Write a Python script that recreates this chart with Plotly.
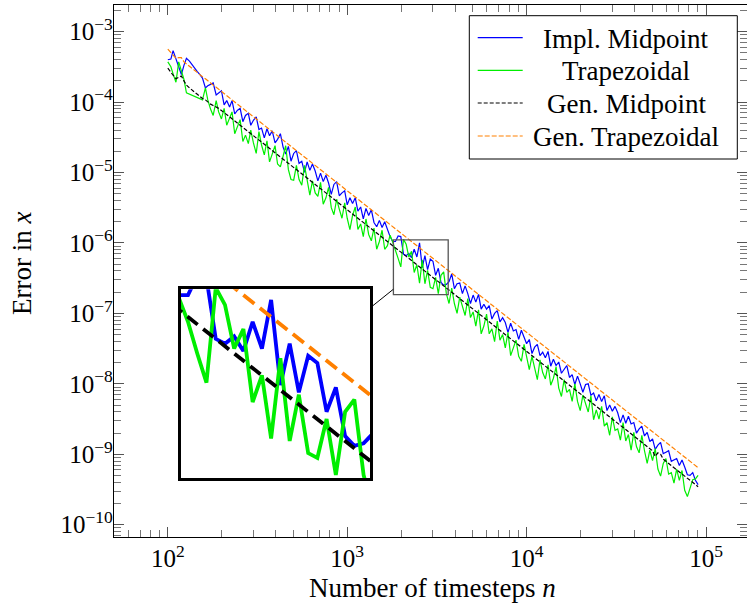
import plotly.graph_objects as go

# ---------------- data ----------------
n_timesteps = [
    100, 104, 107, 111, 115, 119, 123, 127, 132, 136,
    141, 146, 151, 156, 162, 167, 173, 179, 186, 192,
    199, 206, 213, 221, 228, 236, 244, 253, 262, 271,
    281, 290, 300, 311, 322, 333, 345, 357, 369, 382,
    396, 409, 424, 439, 454, 470, 486, 503, 521, 539,
    558, 578, 598, 619, 640, 663, 686, 710, 735, 761,
    787, 815, 843, 873, 903, 935, 968,
    1000, 1035, 1071, 1109, 1147, 1188, 1229, 1272, 1317, 1363,
    1410, 1460, 1511, 1564, 1618, 1675, 1733, 1794, 1857, 1922,
    1989, 2059, 2131, 2205, 2282, 2362, 2445, 2530, 2619, 2711,
    2805, 2904, 3005, 3110, 3219, 3332, 3448, 3569, 3694, 3823,
    3957, 4095, 4239, 4387, 4541, 4699, 4864, 5034, 5210, 5393,
    5581, 5777, 5979, 6188, 6404, 6629, 6861, 7101, 7349, 7606,
    7872, 8148, 8433, 8728, 9033, 9350, 9677,
    10000, 10350, 10711, 11086, 11474, 11875, 12290, 12720, 13165, 13626,
    14102, 14596, 15106, 15635, 16182, 16748, 17334, 17940, 18568, 19218,
    19890, 20586, 21306, 22052, 22823, 23622, 24448, 25304, 26189, 27105,
    28054, 29035, 30051, 31103, 32191, 33318, 34483, 35690, 36939, 38231,
    39569, 40954, 42387, 43870, 45405, 46994, 48638, 50340, 52102, 53925,
    55812, 57765, 59787, 61879, 64044, 66285, 68605, 71005, 73490, 76062,
    78723, 81478, 84329, 87280, 90334,
]

# log10 of the error in x
log10_err_impl_midpoint = [
    -3.40, -3.39, -3.27, -3.39, -3.50, -3.61, -3.48, -3.38, -3.42, -3.47,
    -3.52, -3.57, -3.61, -3.66, -3.80, -3.77, -3.75, -3.73, -3.90, -3.87,
    -3.84, -4.04, -3.98, -4.07, -3.98, -4.17, -4.12, -4.09, -4.28, -4.19,
    -4.16, -4.33, -4.26, -4.21, -4.39, -4.37, -4.51, -4.38, -4.48, -4.41,
    -4.58, -4.53, -4.45, -4.64, -4.74, -4.63, -4.84, -4.73, -4.69, -4.87,
    -4.84, -5.00, -4.85, -4.97, -4.88, -4.98, -5.12, -5.01, -5.13, -5.04,
    -5.15, -5.31, -5.17, -5.13, -5.33, -5.29, -5.26, -5.46, -5.36, -5.44,
    -5.36, -5.55, -5.49, -5.66, -5.51, -5.61, -5.53, -5.71, -5.77, -5.68,
    -5.78, -5.70, -5.80, -5.91, -5.98, -5.98, -5.90, -5.91, -6.16, -6.18,
    -6.15, -6.21, -6.09, -6.20, -6.00, -6.35, -6.18, -6.38, -6.23, -6.26,
    -6.46, -6.36, -6.56, -6.60, -6.59, -6.55, -6.44, -6.65, -6.58, -6.57,
    -6.72, -6.61, -6.72, -6.86, -6.74, -6.84, -6.73, -6.94, -6.87, -6.94,
    -6.89, -7.08, -7.00, -6.96, -7.12, -7.06, -7.13, -7.27, -7.14, -7.25,
    -7.23, -7.37, -7.24, -7.35, -7.43, -7.37, -7.57, -7.48, -7.44, -7.60,
    -7.55, -7.63, -7.54, -7.75, -7.65, -7.74, -7.69, -7.85, -7.80, -7.74,
    -7.91, -7.87, -8.01, -7.89, -8.00, -8.12, -8.01, -8.00, -8.16, -8.13,
    -8.24, -8.15, -8.25, -8.17, -8.38, -8.30, -8.39, -8.32, -8.41, -8.55,
    -8.44, -8.56, -8.46, -8.57, -8.55, -8.70, -8.64, -8.60, -8.74, -8.69,
    -8.82, -8.78, -8.93, -8.87, -8.83, -8.99, -8.97, -8.95, -9.10, -9.08,
    -9.06, -9.16, -9.08, -9.18, -9.29, -9.30, -9.26, -9.37, -9.43,
]

log10_err_trapezoidal = [
    -3.43, -3.50, -3.60, -3.72, -3.43, -3.57, -3.68, -3.87, -3.89, -3.91,
    -3.92, -3.94, -3.96, -3.97, -3.80, -3.97, -4.10, -4.19, -3.98, -4.14,
    -4.24, -4.09, -4.33, -4.23, -4.14, -4.45, -4.35, -4.25, -4.56, -4.47,
    -4.59, -4.40, -4.58, -4.73, -4.42, -4.61, -4.75, -4.55, -4.85, -4.75,
    -4.62, -4.88, -4.92, -4.77, -4.62, -4.96, -5.10, -5.11, -4.90, -5.10,
    -5.18, -4.90, -5.11, -5.32, -5.12, -5.29, -5.34, -5.14, -5.45, -5.36,
    -5.21, -5.50, -5.60, -5.38, -5.52, -5.65, -5.43, -5.65, -5.81, -5.61,
    -5.49, -5.81, -5.73, -5.91, -5.66, -5.88, -5.97, -5.79, -6.09, -5.98,
    -5.82, -6.09, -6.04, -5.89, -5.99, -6.09, -6.22, -6.34, -5.95, -6.02,
    -6.20, -6.12, -6.42, -6.31, -6.57, -6.24, -6.58, -6.39, -6.63, -6.65,
    -6.49, -6.72, -6.46, -6.41, -6.72, -6.86, -6.64, -6.86, -7.00, -6.77,
    -6.92, -7.03, -6.79, -7.06, -6.98, -7.18, -6.95, -7.29, -7.18, -7.01,
    -7.29, -7.22, -7.40, -7.11, -7.38, -7.30, -7.49, -7.27, -7.60, -7.50,
    -7.38, -7.61, -7.68, -7.44, -7.63, -7.80, -7.61, -7.78, -7.94, -7.66,
    -7.84, -7.93, -7.73, -8.02, -7.92, -7.76, -8.06, -8.18, -7.94, -8.12,
    -8.08, -8.25, -8.00, -8.25, -8.38, -8.16, -8.30, -8.40, -8.17, -8.51,
    -8.37, -8.50, -8.32, -8.60, -8.55, -8.73, -8.47, -8.66, -8.64, -8.80,
    -8.55, -8.81, -8.72, -8.94, -8.69, -8.89, -8.98, -8.73, -8.95, -9.13,
    -8.94, -9.09, -8.92, -9.21, -9.31, -9.13, -9.06, -9.28, -9.26, -9.41,
    -9.21, -9.37, -9.23, -9.51, -9.60, -9.47, -9.36, -9.35, -9.30,
]

log10_err_gen_midpoint = [
    -3.52, -3.57, -3.62, -3.67, -3.65, -3.63, -3.70, -3.76, -3.80, -3.83,
    -3.86, -3.89, -3.92, -3.95, -3.97, -4.00, -4.03, -4.05, -4.07, -4.09,
    -4.12, -4.15, -4.18, -4.21, -4.24, -4.27, -4.30, -4.33, -4.36, -4.39,
    -4.42, -4.45, -4.48, -4.51, -4.54, -4.57, -4.60, -4.63, -4.66, -4.69,
    -4.72, -4.75, -4.78, -4.81, -4.84, -4.87, -4.90, -4.93, -4.96, -4.99,
    -5.02, -5.05, -5.08, -5.11, -5.14, -5.17, -5.20, -5.23, -5.26, -5.29,
    -5.32, -5.35, -5.38, -5.41, -5.44, -5.47, -5.50, -5.53, -5.56, -5.59,
    -5.62, -5.65, -5.68, -5.71, -5.74, -5.77, -5.80, -5.83, -5.86, -5.89,
    -5.92, -5.95, -5.98, -6.01, -6.04, -6.07, -6.10, -6.13, -6.16, -6.19,
    -6.22, -6.25, -6.28, -6.31, -6.34, -6.37, -6.40, -6.43, -6.46, -6.49,
    -6.52, -6.55, -6.58, -6.61, -6.64, -6.67, -6.70, -6.73, -6.76, -6.79,
    -6.82, -6.85, -6.88, -6.91, -6.94, -6.97, -7.00, -7.03, -7.06, -7.09,
    -7.12, -7.15, -7.18, -7.21, -7.24, -7.27, -7.30, -7.33, -7.36, -7.39,
    -7.42, -7.45, -7.48, -7.51, -7.54, -7.57, -7.60, -7.63, -7.66, -7.69,
    -7.72, -7.75, -7.78, -7.81, -7.84, -7.87, -7.90, -7.93, -7.96, -7.99,
    -8.02, -8.05, -8.08, -8.11, -8.14, -8.17, -8.20, -8.23, -8.26, -8.29,
    -8.32, -8.35, -8.38, -8.41, -8.44, -8.47, -8.50, -8.53, -8.56, -8.59,
    -8.62, -8.65, -8.68, -8.71, -8.74, -8.77, -8.80, -8.83, -8.86, -8.89,
    -8.92, -8.95, -9.03, -8.98, -9.00, -9.07, -9.10, -9.13, -9.16, -9.19,
    -9.22, -9.25, -9.28, -9.31, -9.34, -9.37, -9.40, -9.43, -9.46,
]

log10_err_gen_trapezoidal = [
    -3.25, -3.30, -3.34, -3.38, -3.37, -3.37, -3.43, -3.46, -3.49, -3.52,
    -3.55, -3.58, -3.61, -3.64, -3.67, -3.70, -3.73, -3.76, -3.79, -3.82,
    -3.85, -3.88, -3.91, -3.94, -3.97, -4.00, -4.03, -4.06, -4.09, -4.12,
    -4.15, -4.18, -4.21, -4.24, -4.27, -4.30, -4.33, -4.36, -4.39, -4.42,
    -4.45, -4.48, -4.51, -4.54, -4.57, -4.60, -4.63, -4.66, -4.69, -4.72,
    -4.75, -4.78, -4.81, -4.84, -4.87, -4.90, -4.93, -4.96, -4.99, -5.02,
    -5.05, -5.08, -5.11, -5.14, -5.17, -5.20, -5.23, -5.26, -5.29, -5.32,
    -5.35, -5.38, -5.41, -5.44, -5.47, -5.50, -5.53, -5.56, -5.59, -5.62,
    -5.65, -5.68, -5.71, -5.74, -5.77, -5.80, -5.83, -5.86, -5.89, -5.92,
    -5.95, -5.98, -6.01, -6.04, -6.07, -6.10, -6.13, -6.16, -6.19, -6.22,
    -6.25, -6.28, -6.31, -6.34, -6.37, -6.40, -6.43, -6.46, -6.49, -6.52,
    -6.55, -6.58, -6.61, -6.64, -6.67, -6.70, -6.73, -6.76, -6.79, -6.82,
    -6.85, -6.88, -6.91, -6.94, -6.97, -7.00, -7.03, -7.06, -7.09, -7.12,
    -7.15, -7.18, -7.21, -7.24, -7.27, -7.30, -7.33, -7.36, -7.39, -7.42,
    -7.45, -7.48, -7.51, -7.54, -7.57, -7.60, -7.63, -7.66, -7.69, -7.72,
    -7.75, -7.78, -7.81, -7.84, -7.87, -7.90, -7.93, -7.96, -7.99, -8.02,
    -8.05, -8.08, -8.11, -8.14, -8.17, -8.20, -8.23, -8.26, -8.29, -8.32,
    -8.35, -8.38, -8.41, -8.44, -8.47, -8.50, -8.53, -8.56, -8.59, -8.62,
    -8.65, -8.68, -8.71, -8.74, -8.77, -8.80, -8.83, -8.86, -8.89, -8.92,
    -8.95, -8.98, -9.01, -9.04, -9.07, -9.10, -9.13, -9.16, -9.19,
]

series_names = ["Impl. Midpoint", "Trapezoidal", "Gen. Midpoint", "Gen. Trapezoidal"]
series_values = [log10_err_impl_midpoint, log10_err_trapezoidal,
                 log10_err_gen_midpoint, log10_err_gen_trapezoidal]

x_tick_values = [1e2, 1e3, 1e4, 1e5]
x_tick_labels = ["10<sup>2</sup>", "10<sup>3</sup>", "10<sup>4</sup>", "10<sup>5</sup>"]
y_tick_values = [1e-10, 1e-9, 1e-8, 1e-7, 1e-6, 1e-5, 1e-4, 1e-3]
y_tick_labels = ["10<sup>−10</sup>", "10<sup>−9</sup>", "10<sup>−8</sup>", "10<sup>−7</sup>",
                 "10<sup>−6</sup>", "10<sup>−5</sup>", "10<sup>−4</sup>", "10<sup>−3</sup>"]

x_title = "Number of timesteps <i>n</i>"
y_title = "Error in <i>x</i>"

# ---------------- styling / geometry ----------------
FONT = "Liberation Serif"
W, H = 747, 610
ML, MR, MT, MB = 114, 0, 5, 73
PW, PH = W - ML - MR, H - MT - MB
XR = [1.700, 1.700 + PW / 179.4]     # log10 range of main x axis
YR = [-10.174, -2.623]               # log10 range of main y axis

colors = ["#0000ff", "#00ee00", "#000000", "#ff8000"]
dashes_main = ["solid", "solid", "4px,2px", "5px,2px"]
dashes_inset = ["solid", "solid", "13px,7px", "14px,7px"]

# zoom (spy) region in log10 data coordinates and inset position in pixels
SPY_CX, SPY_CY = 3.4102, -6.345
SPY_HX, SPY_HY = 0.1527, 0.3887
INSET_PX = (181, 289.3, 370, 478.3)  # left, top, right, bottom (pixels)

x2_range = [SPY_CX - SPY_HX, SPY_CX + SPY_HX]
y2_range = [SPY_CY - SPY_HY, SPY_CY + SPY_HY]


def lx_to_px(lx):
    return ML + (lx - XR[0]) / (XR[1] - XR[0]) * PW


def ly_to_py(ly):
    return MT + (YR[1] - ly) / (YR[1] - YR[0]) * PH


def px_to_paper(px):
    return (px - ML) / PW


def py_to_paper(py):
    return (MT + PH - py) / PH


minor_x = [m * 10 ** e for e in range(1, 6) for m in range(2, 10)]
minor_y = [m * 10.0 ** e for e in range(-11, -2) for m in range(2, 10)]

fig = go.Figure()

for name, vals, col, dm in zip(series_names, series_values, colors, dashes_main):
    yv = [10 ** v for v in vals]
    fig.add_trace(go.Scatter(x=n_timesteps, y=yv, mode="lines", name=name,
                             line=dict(color=col, width=1.2, dash=dm),
                             xaxis="x", yaxis="y", showlegend=False))
for name, vals, col, di in zip(series_names, series_values, colors, dashes_inset):
    yv = [10 ** v for v in vals]
    fig.add_trace(go.Scatter(x=n_timesteps, y=yv, mode="lines", name=name,
                             line=dict(color=col, width=3.8, dash=di),
                             xaxis="x2", yaxis="y2", showlegend=False))

tickfont = dict(family=FONT, size=25, color="black")
common = dict(type="log", showgrid=False, zeroline=False, showline=True,
              linecolor="black", linewidth=1.3, mirror="ticks",
              ticks="inside", ticklen=10, tickwidth=1, tickcolor="#555",
              tickfont=tickfont, tickmode="array")

fig.update_layout(
    width=W, height=H,
    margin=dict(l=ML, r=MR, t=MT, b=MB, pad=0),
    paper_bgcolor="white", plot_bgcolor="white",
    xaxis=dict(common, range=XR, tickvals=x_tick_values, ticktext=x_tick_labels,
               ticklabelstandoff=-1, domain=[0, 1], anchor="y",
               minor=dict(tickmode="array", tickvals=minor_x, ticks="inside",
                          ticklen=7, tickwidth=1, tickcolor="#777", showgrid=False)),
    yaxis=dict(common, range=YR, tickvals=y_tick_values, ticktext=y_tick_labels,
               ticklabelstandoff=-5, domain=[0, 1], anchor="x",
               minor=dict(tickmode="array", tickvals=minor_y, ticks="inside",
                          ticklen=7, tickwidth=1, tickcolor="#777", showgrid=False)),
    xaxis2=dict(type="log", range=x2_range, anchor="y2",
                domain=[px_to_paper(INSET_PX[0]), px_to_paper(INSET_PX[2])],
                showgrid=False, zeroline=False, showticklabels=False, ticks="",
                showline=True, mirror=True, linecolor="black", linewidth=2.5),
    yaxis2=dict(type="log", range=y2_range, anchor="x2",
                domain=[py_to_paper(INSET_PX[3]), py_to_paper(INSET_PX[1])],
                showgrid=False, zeroline=False, showticklabels=False, ticks="",
                showline=True, mirror=True, linecolor="black", linewidth=2.5),
    font=dict(family=FONT, color="black"),
)

shapes = []
# spy outline in the main axes
sx0, sx1 = lx_to_px(x2_range[0]), lx_to_px(x2_range[1])
sy0, sy1 = ly_to_py(y2_range[1]), ly_to_py(y2_range[0])
shapes.append(dict(type="rect", xref="paper", yref="paper",
                   x0=px_to_paper(sx0), x1=px_to_paper(sx1),
                   y0=py_to_paper(sy1), y1=py_to_paper(sy0),
                   line=dict(color="#555", width=1.3)))

# connecting line between spy region and inset (along center-to-center line)
scx, scy = (sx0 + sx1) / 2, (sy0 + sy1) / 2
icx, icy = (INSET_PX[0] + INSET_PX[2]) / 2, (INSET_PX[1] + INSET_PX[3]) / 2
dx, dy = icx - scx, icy - scy


def exit_pt(cx, cy, ddx, ddy, hw, hh):
    t = min(hw / abs(ddx), hh / abs(ddy))
    return cx + t * ddx, cy + t * ddy


p1 = exit_pt(scx, scy, dx, dy, (sx1 - sx0) / 2, (sy1 - sy0) / 2)
p2 = exit_pt(icx, icy, -dx, -dy, (INSET_PX[2] - INSET_PX[0]) / 2, (INSET_PX[3] - INSET_PX[1]) / 2)
shapes.append(dict(type="line", xref="paper", yref="paper",
                   x0=px_to_paper(p1[0]), y0=py_to_paper(p1[1]),
                   x1=px_to_paper(p2[0]), y1=py_to_paper(p2[1]),
                   line=dict(color="black", width=1)))

# manual legend (centered text, as in the original)
LEG = (469.3, 15.7, 737.3, 159)
shapes.append(dict(type="rect", xref="paper", yref="paper", layer="above",
                   x0=px_to_paper(LEG[0]), x1=px_to_paper(LEG[2]),
                   y0=py_to_paper(LEG[3]), y1=py_to_paper(LEG[1]),
                   line=dict(color="black", width=1), fillcolor="white"))
entry_y = [37.7, 70.3, 103.0, 136.0]
annotations = []
for name, col, dm, ey in zip(series_names, colors, dashes_main, entry_y):
    shapes.append(dict(type="line", xref="paper", yref="paper", layer="above",
                       x0=px_to_paper(477.7), x1=px_to_paper(522.7),
                       y0=py_to_paper(ey), y1=py_to_paper(ey),
                       line=dict(color=col, width=1.2, dash=dm)))
    annotations.append(dict(text=name, xref="paper", yref="paper",
                            x=px_to_paper(626), y=py_to_paper(ey + 1),
                            xanchor="center", yanchor="middle", showarrow=False,
                            font=dict(family=FONT, size=27, color="black")))

annotations.append(dict(text=x_title, xref="paper", yref="paper",
                        x=px_to_paper(432), y=py_to_paper(588),
                        xanchor="center", yanchor="middle", showarrow=False,
                        font=dict(family=FONT, size=27, color="black")))
annotations.append(dict(text=y_title, xref="paper", yref="paper",
                        x=px_to_paper(22), y=py_to_paper(264), textangle=-90,
                        xanchor="center", yanchor="middle", showarrow=False,
                        font=dict(family=FONT, size=27, color="black")))

fig.update_layout(shapes=shapes, annotations=annotations)

# remove the default 8px page margin so the figure sits at the window's corner
fig.write_html("out.html", config={"displayModeBar": False},
               post_script="document.body.style.margin='0';")
